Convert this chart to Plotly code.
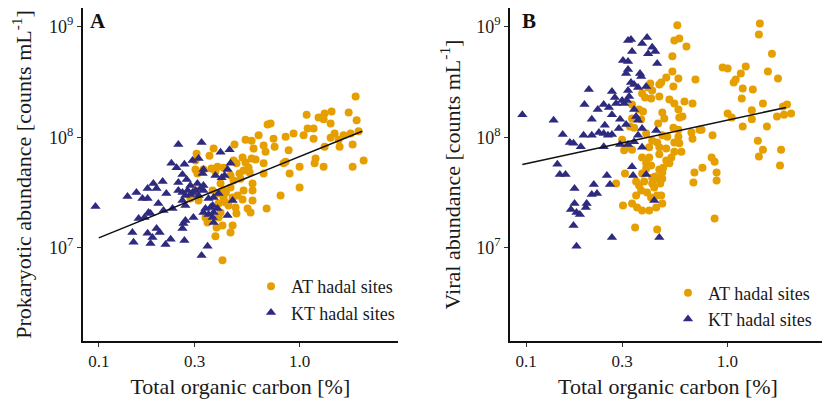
import math
import plotly.graph_objects as go

# ---------------- Panel A: prokaryotic abundance ----------------
a_at_toc = [0.373, 0.356, 0.307, 0.303, 0.332, 0.364, 0.381, 0.310, 0.303, 0.314, 0.340, 0.381, 0.413, 0.395,
            0.693, 0.625, 0.538, 0.577, 0.474, 0.662, 0.751, 0.742, 0.590, 0.677, 0.520, 0.577, 0.604, 0.469,
            0.538, 0.485, 0.662, 0.557, 0.303, 0.390, 0.418, 0.526, 0.502, 0.564, 0.469, 0.508, 0.453, 0.583,
            0.662, 0.418, 0.453, 0.526, 0.583, 0.491, 0.418, 0.464, 0.286, 0.390, 0.520, 0.583, 0.443, 0.480,
            0.551, 0.685, 0.404, 0.485, 0.570, 0.348, 0.413, 0.464, 0.386, 0.453, 0.804, 1.901, 1.443, 1.332,
            1.084, 1.755, 1.243, 1.317, 1.923, 1.427, 1.096, 1.174, 0.933, 1.047, 0.852, 1.494, 1.657, 1.795,
            1.968, 1.427, 1.564, 1.174, 1.837, 1.582, 1.332, 0.882, 1.201, 1.188, 0.852, 0.832, 1.000, 1.317,
            1.837, 2.084, 0.892, 1.000, 0.717, 0.404, 0.430, 0.369, 0.428, 0.395]
a_at_val = [7.9e7, 6.8e7, 7.1e7, 6.15e7, 5.1e7, 5.2e7, 4.9e7, 4.7e7, 3.3e7, 2.67e7, 1.88e7, 1.27e7, 7.7e6, 1.88e7,
            1.30e8, 1.04e8, 9.5e7, 9.3e7, 8.6e7, 8.4e7, 8.2e7, 9.7e7, 7.9e7, 7.4e7, 6.55e7, 6.4e7, 6.3e7, 6.15e7,
            5.9e7, 5.8e7, 5.8e7, 5.3e7, 5.1e7, 5.4e7, 5.3e7, 5.0e7, 4.7e7, 4.8e7, 4.05e7, 4.2e7, 4.5e7, 3.81e7,
            4.7e7, 3.3e7, 3.51e7, 3.3e7, 3.3e7, 2.97e7, 2.85e7, 2.85e7, 2.79e7, 3.1e7, 2.73e7, 2.67e7, 2.41e7, 2.31e7,
            2.26e7, 2.26e7, 2.08e7, 2.04e7, 2.08e7, 1.69e7, 1.59e7, 1.59e7, 1.52e7, 1.37e7, 2.97e7, 2.34e8, 1.71e8, 1.64e8,
            1.60e8, 1.67e8, 1.51e8, 1.45e8, 1.42e8, 1.33e8, 1.20e8, 1.20e8, 1.08e8, 1.04e8, 1.01e8, 1.08e8, 1.04e8, 1.08e8,
            1.13e8, 9.9e7, 9.5e7, 9.7e7, 8.6e7, 8.2e7, 8.2e7, 7.6e7, 6.4e7, 5.8e7, 6.0e7, 5.8e7, 5.4e7, 5.4e7,
            5.4e7, 6.15e7, 4.7e7, 3.51e7, 1.33e8, 3.81e7, 3.16e7, 3.3e7, 2.57e7, 2.51e7]

a_kt_toc = [0.0963, 0.139, 0.154, 0.165, 0.175, 0.175, 0.187, 0.194, 0.208, 0.217, 0.198, 0.158, 0.169, 0.177,
            0.181, 0.210, 0.233, 0.194, 0.201, 0.175, 0.185, 0.147, 0.149, 0.181, 0.215, 0.228, 0.267, 0.261,
            0.264, 0.270, 0.296, 0.249, 0.325, 0.230, 0.244, 0.267, 0.293, 0.314, 0.249, 0.261, 0.274, 0.249,
            0.261, 0.277, 0.286, 0.293, 0.261, 0.270, 0.270, 0.310, 0.321, 0.332, 0.329, 0.381, 0.409, 0.404,
            0.314, 0.352, 0.373, 0.369, 0.340, 0.390, 0.352, 0.373, 0.395, 0.348, 0.325, 0.448, 0.453, 0.438,
            0.423, 0.332, 0.303, 0.332, 0.286, 0.360, 0.373, 0.369, 0.332, 0.438, 0.464]
a_kt_val = [2.36e7, 2.91e7, 3.16e7, 2.79e7, 2.79e7, 3.44e7, 3.81e7, 3.44e7, 3.97e7, 3.1e7, 2.51e7, 1.84e7, 1.88e7, 2.08e7,
            2.04e7, 2.17e7, 2.26e7, 1.49e7, 1.37e7, 1.35e7, 1.24e7, 1.37e7, 1.12e7, 1.09e7, 1.07e7, 1.19e7, 1.16e7, 1.49e7,
            1.66e7, 1.76e7, 1.88e7, 8.6e7, 8.95e7, 5.8e7, 5.3e7, 5.7e7, 6.15e7, 6.4e7, 3.89e7, 4.6e7, 4.15e7, 3.3e7,
            3.16e7, 3.3e7, 3.66e7, 3.16e7, 2.67e7, 2.41e7, 2.97e7, 3.81e7, 3.44e7, 3.66e7, 4.7e7, 4.5e7, 4.3e7, 7.3e7,
            2.97e7, 2.79e7, 2.85e7, 2.41e7, 2.26e7, 2.26e7, 2.0e7, 1.69e7, 3.1e7, 1.03e7, 8.5e6, 7.7e7, 5.8e7, 5.1e7,
            4.5e7, 5.1e7, 3.3e7, 3.3e7, 3.03e7, 2.31e7, 2.08e7, 1.88e7, 2.08e7, 1.96e7, 2.67e7]

# regression line (log-log): log10(y) = a_int + a_slope * log10(x)
a_fit_int, a_fit_slope = 7.825, 0.736
a_fit_x = [0.1, 2.05]

# ---------------- Panel B: viral abundance ----------------
b_at_toc = [0.280, 0.303, 0.336, 0.348, 0.564, 0.545, 0.577, 0.626, 0.533, 0.533, 0.571, 0.694, 0.497, 0.469,
            0.459, 0.414, 0.404, 0.539, 0.423, 0.377, 0.459, 0.390, 0.418, 0.515, 0.545, 0.612, 0.671, 0.336,
            0.364, 0.571, 0.475, 0.381, 0.598, 0.373, 0.336, 0.486, 0.453, 0.577, 0.328, 0.344, 0.539, 0.571,
            0.395, 0.663, 0.727, 0.475, 0.503, 0.571, 0.671, 0.844, 0.300, 0.423, 0.448, 0.545, 0.577, 0.314,
            0.336, 0.409, 0.459, 0.497, 0.307, 0.545, 0.591, 0.459, 0.377, 0.409, 0.527, 0.835, 0.497, 0.395,
            0.418, 0.515, 0.864, 0.480, 0.395, 0.752, 0.459, 0.310, 0.377, 0.475, 0.438, 0.686, 0.884, 0.352,
            0.423, 0.453, 0.475, 0.386, 0.423, 0.464, 0.678, 0.884, 0.364, 0.433, 0.373, 0.399, 0.352, 0.448,
            0.469, 0.418, 0.356, 0.377, 0.409, 0.443, 0.475, 0.448, 0.864,
            1.450, 1.434, 1.665, 1.590, 1.784, 1.234, 0.947, 1.003, 1.166, 1.100, 1.075, 1.192, 1.338, 1.179,
            1.502, 1.323, 1.003, 1.051, 1.323, 1.192, 1.572, 1.764, 1.890, 1.979, 2.073, 1.912, 0.744, 1.417,
            1.502, 1.434, 1.848, 1.826]
b_at_val = [3.81e7, 2.41e7, 2.51e7, 1.52e7, 1.03e9, 7.5e8, 7.8e8, 6.6e8, 5.4e8, 3.93e8, 3.4e8, 3.33e8, 3.47e8, 3.13e8,
            3.0e8, 3.06e8, 2.82e8, 2.88e8, 2.65e8, 2.49e8, 2.34e8, 2.29e8, 2.24e8, 2.19e8, 2.02e8, 2.1e8, 2.02e8, 1.98e8,
            1.78e8, 1.78e8, 1.67e8, 1.71e8, 1.54e8, 1.45e8, 1.48e8, 1.48e8, 1.33e8, 1.51e8, 1.25e8, 1.22e8, 1.22e8, 1.17e8,
            1.08e8, 1.10e8, 1.17e8, 1.04e8, 1.01e8, 1.01e8, 9.7e7, 1.04e8, 9.5e7, 9.3e7, 8.95e7, 8.95e7, 8.8e7, 8.1e7,
            7.7e7, 8.1e7, 8.1e7, 7.9e7, 7.6e7, 7.4e7, 7.4e7, 7.0e7, 6.55e7, 6.55e7, 6.55e7, 6.55e7, 6.15e7, 5.8e7,
            5.55e7, 5.8e7, 6.0e7, 5.3e7, 5.2e7, 5.3e7, 5.1e7, 4.7e7, 4.7e7, 4.8e7, 4.4e7, 4.8e7, 4.8e7, 3.97e7,
            4.3e7, 4.2e7, 4.2e7, 3.97e7, 3.81e7, 3.81e7, 3.89e7, 4.05e7, 3.66e7, 3.51e7, 3.3e7, 3.16e7, 2.97e7, 2.97e7,
            2.97e7, 2.85e7, 2.31e7, 2.17e7, 2.17e7, 2.31e7, 2.51e7, 1.46e7, 1.84e7,
            1.07e9, 8.5e8, 5.7e8, 3.93e8, 3.4e8, 4.36e8, 4.28e8, 4.19e8, 3.77e8, 3.33e8, 3.13e8, 2.76e8, 2.7e8, 2.24e8,
            2.02e8, 1.75e8, 1.64e8, 1.51e8, 1.45e8, 1.25e8, 1.25e8, 1.54e8, 1.9e8, 1.98e8, 1.64e8, 1.6e8, 1.17e8, 9.3e7,
            7.7e7, 6.7e7, 7.7e7, 5.55e7]

b_kt_toc = [0.0958, 0.137, 0.152, 0.165, 0.172, 0.187, 0.193, 0.212, 0.205, 0.195, 0.227, 0.212, 0.243, 0.267,
            0.276, 0.280, 0.258, 0.267, 0.293, 0.300, 0.317, 0.321, 0.325, 0.332, 0.344, 0.314, 0.321, 0.303,
            0.321, 0.336, 0.321, 0.332, 0.246, 0.230, 0.243, 0.255, 0.267, 0.289, 0.314, 0.321, 0.293, 0.243,
            0.143, 0.147, 0.157, 0.252, 0.261, 0.217, 0.174, 0.212, 0.225, 0.174, 0.200, 0.167, 0.178, 0.185,
            0.198, 0.172, 0.267, 0.178, 0.340, 0.399, 0.377, 0.423, 0.438, 0.404, 0.448, 0.368, 0.373, 0.395,
            0.360, 0.307, 0.344, 0.352, 0.360, 0.377, 0.443, 0.360, 0.344, 0.377, 0.336, 0.395, 0.433, 0.459]
b_kt_val = [1.6e8, 1.42e8, 1.06e8, 8.95e7, 8.8e7, 8.2e7, 1.04e8, 1.04e8, 2.7e8, 1.98e8, 1.78e8, 1.45e8, 1.98e8, 2.59e8,
            2.29e8, 2.02e8, 1.86e8, 1.6e8, 1.45e8, 2.15e8, 2.15e8, 2.65e8, 2.34e8, 3.13e8, 3.0e8, 3.77e8, 4.1e8, 4.94e8,
            4.84e8, 5.97e8, 7.5e8, 7.65e8, 1.28e8, 1.10e8, 1.08e8, 1.04e8, 1.06e8, 1.20e8, 1.30e8, 8.6e7, 8.6e7, 8.2e7,
            5.7e7, 4.6e7, 4.6e7, 4.5e7, 3.73e7, 3.73e7, 3.44e7, 3.03e7, 3.1e7, 2.51e7, 2.51e7, 2.22e7, 2.08e7, 2.0e7,
            2.31e7, 1.59e7, 1.24e7, 1.03e7, 4.5e7, 7.98e8, 7.05e8, 6.5e8, 5.97e8, 5.7e8, 4.64e8, 3.77e8, 3.54e8, 2.88e8,
            2.82e8, 2.02e8, 1.78e8, 1.54e8, 1.42e8, 1.2e8, 1.15e8, 1.04e8, 9.1e7, 8.1e7, 5.4e7, 4.6e7, 2.67e7, 1.24e7]

b_fit_int, b_fit_slope = 8.154, 0.394
b_fit_x = [0.0958, 1.957]

x_tickvals = [0.1, 0.3, 1.0]
x_ticktext = ["0.1", "0.3", "1.0"]
y_tickvals = [1e7, 1e8, 1e9]
y_ticktext = ["10<sup>7</sup>", "10<sup>8</sup>", "10<sup>9</sup>"]

ORANGE = "#E69F00"
NAVY = "#2E2A80"
FONT = "Liberation Serif, Times New Roman, serif"
TXT = "#1a1a1a"

fig = go.Figure()


def add_panel(at_x, at_y, kt_x, kt_y, fit_int, fit_slope, fit_x, xa, ya, legend):
    fig.add_trace(go.Scatter(x=at_x, y=at_y, mode="markers", name="AT hadal sites",
                             marker=dict(symbol="circle", size=8, color=ORANGE),
                             xaxis=xa, yaxis=ya, legend=legend))
    fig.add_trace(go.Scatter(x=kt_x, y=kt_y, mode="markers", name="KT hadal sites",
                             marker=dict(symbol="triangle-up", size=9, color=NAVY),
                             xaxis=xa, yaxis=ya, legend=legend))
    fy = [10 ** (fit_int + fit_slope * math.log10(v)) for v in fit_x]
    fig.add_trace(go.Scatter(x=fit_x, y=fy, mode="lines", showlegend=False,
                             line=dict(color="#111111", width=1.6),
                             xaxis=xa, yaxis=ya))


add_panel(a_at_toc, a_at_val, a_kt_toc, a_kt_val, a_fit_int, a_fit_slope, a_fit_x, "x", "y", "legend")
add_panel(b_at_toc, b_at_val, b_kt_toc, b_kt_val, b_fit_int, b_fit_slope, b_fit_x, "x2", "y2", "legend2")

# the page body has an 8px margin, so the figure starts at (8, 8) of the window
W, H = 822, 393
ydom = [(H - 333) / H, 1.0]

xcommon = dict(type="log", range=[-1.08, 0.49], tickvals=x_tickvals, ticktext=x_ticktext,
               showline=True, linecolor="#111111", linewidth=1.8, ticks="outside", ticklen=4,
               tickcolor="#333333", showgrid=False, zeroline=False,
               tickfont=dict(family=FONT, size=17, color=TXT),
               title=dict(text="Total organic carbon [%]", font=dict(family=FONT, size=22, color=TXT), standoff=8))
ycommon = dict(type="log", range=[6.156, 9.169], tickvals=y_tickvals, ticktext=y_ticktext,
               showline=True, linecolor="#111111", linewidth=1.8, ticks="outside", ticklen=4,
               tickcolor="#333333", showgrid=False, zeroline=False,
               tickfont=dict(family=FONT, size=18, color=TXT))

fig.update_layout(
    width=W, height=H,
    margin=dict(l=0, r=0, t=0, b=0),
    paper_bgcolor="white", plot_bgcolor="white",
    font=dict(family=FONT, color=TXT),
    xaxis=dict(domain=[74.7 / W, 390 / W], anchor="y", **xcommon),
    xaxis2=dict(domain=[502 / W, 818 / W], anchor="y2", **xcommon),
    yaxis=dict(domain=ydom, anchor="x",
               title=dict(text="Prokaryotic abundance [counts mL<sup>-1</sup>]",
                          font=dict(family=FONT, size=22, color=TXT), standoff=15), **ycommon),
    yaxis2=dict(domain=ydom, anchor="x2",
                title=dict(text="Viral abundance [counts mL<sup>-1</sup>]",
                           font=dict(family=FONT, size=22, color=TXT), standoff=10), **ycommon),
    legend=dict(x=243 / W, y=(H - 260) / H, xanchor="left", yanchor="top",
                bgcolor="rgba(0,0,0,0)", font=dict(family=FONT, size=18, color=TXT),
                itemwidth=30, tracegroupgap=0),
    legend2=dict(x=660 / W, y=(H - 266.5) / H, xanchor="left", yanchor="top",
                 bgcolor="rgba(0,0,0,0)", font=dict(family=FONT, size=18, color=TXT),
                 itemwidth=30, tracegroupgap=0),
    showlegend=True,
    annotations=[
        dict(text="<b>A</b>", x=81 / W, y=(H - 12.5) / H, xref="paper", yref="paper",
             xanchor="left", yanchor="middle", showarrow=False, borderpad=0,
             font=dict(family=FONT, size=21, color="#111111")),
        dict(text="<b>B</b>", x=513 / W, y=(H - 12.5) / H, xref="paper", yref="paper",
             xanchor="left", yanchor="middle", showarrow=False, borderpad=0,
             font=dict(family=FONT, size=21, color="#111111")),
    ],
)

fig.write_html("out.html")
